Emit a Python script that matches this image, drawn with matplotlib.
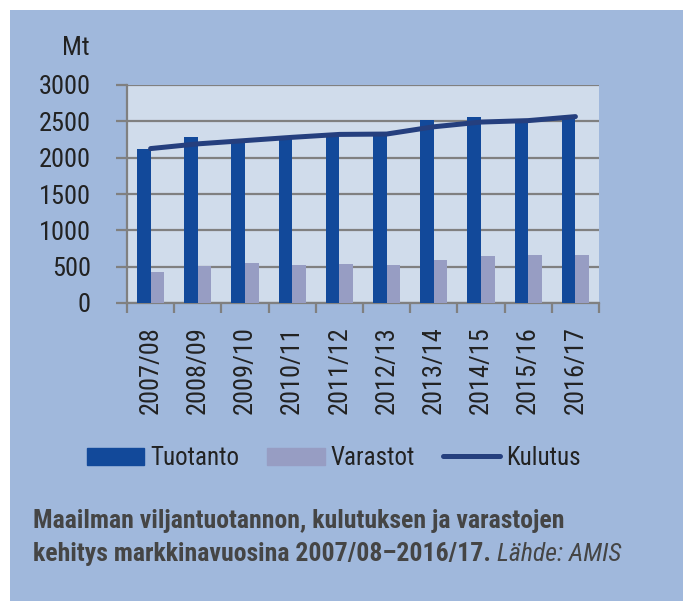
import matplotlib
matplotlib.use("Agg")
import matplotlib.pyplot as plt
import numpy as np
from matplotlib.patches import Rectangle
from matplotlib.lines import Line2D

years = ["2007/08", "2008/09", "2009/10", "2010/11", "2011/12",
         "2012/13", "2013/14", "2014/15", "2015/16", "2016/17"]
tuotanto = [2120, 2280, 2200, 2260, 2300, 2300, 2520, 2560, 2500, 2560]
varastot = [430, 510, 550, 525, 540, 520, 585, 645, 655, 660]
kulutus = [2125, 2190, 2235, 2280, 2320, 2325, 2425, 2490, 2510, 2565]
yticks = [0, 500, 1000, 1500, 2000, 2500, 3000]

plt.rcParams["font.family"] = ["Roboto Condensed", "DejaVu Sans"]

BG = "#A0B8DC"
PLOT_BG = "#D0DCEB"
C_T = "#12499A"
C_V = "#979DC3"
C_K = "#253F7E"
GRID = "#808080"
TXT = "#222222"
FS = 19

fig = plt.figure(figsize=(6.83, 6.01), dpi=100)
fig.patch.set_facecolor("white")
fig.patches.append(Rectangle((10 / 683, 0), 1, 1 - 10 / 601, transform=fig.transFigure,
                             facecolor=BG, edgecolor="none", zorder=-10))

ax = fig.add_axes([127 / 683, 1 - 303 / 601, (599 - 127) / 683, (303 - 85) / 601])
ax.set_facecolor(PLOT_BG)
x = np.arange(len(years))
w = 0.29
ax.bar(x - w / 2, tuotanto, width=w, color=C_T, zorder=3)
ax.bar(x + w / 2, varastot, width=w, color=C_V, zorder=3)
ax.plot(x, kulutus, color=C_K, lw=3.6, solid_capstyle="round", solid_joinstyle="round", zorder=4)

ax.set_xlim(-0.5, len(years) - 0.5)
ax.set_ylim(0, 3000)
ax.set_yticks(yticks)
ax.set_yticklabels([str(v) for v in yticks], fontsize=FS, color=TXT)
ax.yaxis.grid(True, color=GRID, lw=1.6, zorder=1)
ax.set_axisbelow(True)
ax.tick_params(axis="y", length=8, width=1.6, color=GRID, pad=18)

ax.set_xticks(np.arange(len(years) + 1) - 0.5)
ax.set_xticklabels([])
ax.set_xticks(x, minor=True)
ax.set_xticklabels(years, minor=True, rotation=90, fontsize=FS, color=TXT, va="top")
ax.tick_params(axis="x", which="major", length=7, width=1.6, color=GRID)
ax.tick_params(axis="x", which="minor", length=0, pad=17)

for s in ["top", "right"]:
    ax.spines[s].set_visible(False)
for s in ["left", "bottom"]:
    ax.spines[s].set_color(GRID)
    ax.spines[s].set_linewidth(1.6)

fig.text(76 / 683, 1 - 48 / 601, "Mt", fontsize=FS, color=TXT, ha="center", va="center")

handles = [Rectangle((0, 0), 1, 1, color=C_T), Rectangle((0, 0), 1, 1, color=C_V),
           Line2D([0], [0], color=C_K, lw=3.6, solid_capstyle="round")]
fig.legend(handles, ["Tuotanto", "Varastot", "Kulutus"], loc="center",
           bbox_to_anchor=(334 / 683, 1 - 458 / 601), ncol=3, frameon=False,
           fontsize=18, handlelength=2.3, handleheight=0.65, handletextpad=0.25,
           columnspacing=1.1, labelcolor=TXT)

CAP = "#454545"
CFS = 18.5
fig.text(33 / 683, 1 - 528 / 601, "Maailman viljantuotannon, kulutuksen ja varastojen",
         fontsize=CFS, color=CAP, fontweight="bold", ha="left", va="baseline")
t2 = fig.text(33 / 683, 1 - 561 / 601, "kehitys markkinavuosina 2007/08–2016/17.",
              fontsize=CFS, color=CAP, fontweight="bold", ha="left", va="baseline")
fig.canvas.draw()
bb = t2.get_window_extent(fig.canvas.get_renderer())
fig.text((bb.x1 + 6) / (fig.dpi * 6.83), 1 - 561 / 601, "Lähde: AMIS",
         fontsize=CFS, color=CAP, style="italic", ha="left", va="baseline")

fig.savefig("out.png", dpi=100, facecolor=fig.get_facecolor())
